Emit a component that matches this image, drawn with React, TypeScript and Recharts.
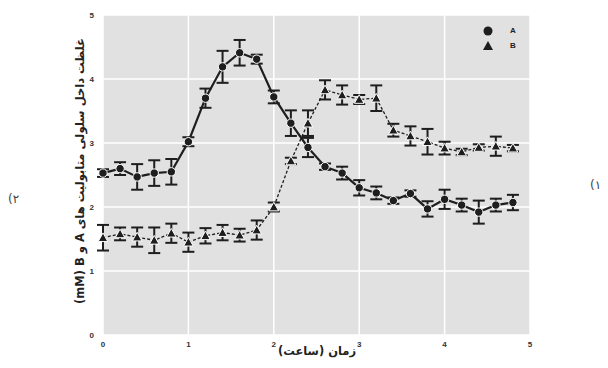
import React from 'react';
import {
  ComposedChart,
  Line,
  XAxis,
  YAxis,
  CartesianGrid,
  ErrorBar,
} from 'recharts';

// time points (hours)
const hours = [
  0, 0.2, 0.4, 0.6, 0.8, 1.0, 1.2, 1.4, 1.6, 1.8, 2.0, 2.2, 2.4,
  2.6, 2.8, 3.0, 3.2, 3.4, 3.6, 3.8, 4.0, 4.2, 4.4, 4.6, 4.8,
];

// metabolite A (mM) and its error
const metA = [
  2.53, 2.6, 2.47, 2.53, 2.55, 3.02, 3.7, 4.19, 4.41, 4.31, 3.72, 3.31, 2.93,
  2.63, 2.53, 2.3, 2.22, 2.1, 2.21, 1.97, 2.12, 2.03, 1.92, 2.03, 2.07,
];
const errA = [
  0.06, 0.1, 0.2, 0.2, 0.2, 0.07, 0.15, 0.25, 0.2, 0.07, 0.1, 0.2, 0.15,
  0.05, 0.1, 0.12, 0.1, 0.05, 0.05, 0.12, 0.15, 0.1, 0.18, 0.1, 0.12,
];

// metabolite B (mM) and its error
const metB = [
  1.52, 1.58, 1.53, 1.48, 1.59, 1.45, 1.55, 1.6, 1.56, 1.64, 2.0, 2.72, 3.31,
  3.83, 3.75, 3.68, 3.7, 3.2, 3.11, 3.02, 2.92, 2.86, 2.93, 2.95, 2.92,
];
const errB = [
  0.2, 0.1, 0.15, 0.2, 0.15, 0.15, 0.12, 0.12, 0.1, 0.15, 0.07, 0.05, 0.2,
  0.15, 0.15, 0.07, 0.2, 0.1, 0.15, 0.2, 0.1, 0.05, 0.05, 0.15, 0.05,
];

const axisTicks = [0, 1, 2, 3, 4, 5];

const xTitle = 'زمان (ساعت)';
// y title pieces, written in the order they appear (bottom to top)
const yTitleLatin = '(mM) B و A';
const yTitleWords = 'غلظت داخل سلولی متابولیت های';
const leftNote = '(۲';
const rightNote = '(۱';

const data = hours.map((h, i) => ({
  hour: h,
  a: metA[i],
  aErr: errA[i],
  b: metB[i],
  bErr: errB[i],
}));

const INK = '#1e1e1e';

const CircleDot = (props: any) => {
  const { cx, cy } = props;
  if (cx == null || cy == null) return null;
  return <circle cx={cx} cy={cy} r={4.2} fill={INK} stroke="#fff" strokeWidth={1} />;
};

const TriangleDot = (props: any) => {
  const { cx, cy } = props;
  if (cx == null || cy == null) return null;
  const s = 4.8;
  return (
    <path
      d={`M${cx},${cy - s} L${cx + s},${cy + s * 0.8} L${cx - s},${cy + s * 0.8} Z`}
      fill={INK}
      stroke="#fff"
      strokeWidth={1}
    />
  );
};

const tickStyle = { fontFamily: 'Liberation Sans', fontWeight: 700, fontSize: 8, fill: '#333' };

export default function App() {
  return (
    <div style={{ position: 'absolute', left: 0, top: 0, width: 608, height: 368, background: '#fff' }}>
      <ComposedChart
        width={608}
        height={368}
        data={data}
        margin={{ top: 15, right: 78, bottom: 13, left: 73 }}
      >
        <CartesianGrid
          fill="#e1e1e1"
          stroke="#ffffff"
          strokeWidth={1.5}
          horizontalValues={axisTicks}
          verticalValues={axisTicks}
        />
        <XAxis
          dataKey="hour"
          type="number"
          domain={[0, 5]}
          ticks={axisTicks}
          axisLine={false}
          tickLine={false}
          height={20}
          tick={tickStyle}
          tickMargin={0}
        />
        <YAxis
          type="number"
          domain={[0, 5]}
          ticks={axisTicks}
          axisLine={false}
          tickLine={false}
          width={30}
          tick={tickStyle}
          tickMargin={3}
        />
        <Line
          dataKey="b"
          stroke={INK}
          strokeWidth={1.3}
          strokeDasharray="3 2"
          dot={<TriangleDot />}
          activeDot={false}
          isAnimationActive={false}
        >
          <ErrorBar dataKey="bErr" direction="y" width={6} stroke={INK} strokeWidth={2} />
        </Line>
        <Line
          dataKey="a"
          stroke={INK}
          strokeWidth={2.2}
          dot={<CircleDot />}
          activeDot={false}
          isAnimationActive={false}
        >
          <ErrorBar dataKey="aErr" direction="y" width={6} stroke={INK} strokeWidth={2} />
        </Line>
      </ComposedChart>

      {/* legend */}
      <div
        style={{
          position: 'absolute',
          left: 481,
          top: 23,
          fontFamily: 'Liberation Sans',
          fontWeight: 700,
          fontSize: 8,
          color: '#222',
        }}
      >
        <div style={{ display: 'flex', alignItems: 'center', height: 15 }}>
          <svg width={14} height={14}>
            <circle cx={7} cy={7} r={4.5} fill={INK} />
          </svg>
          <span style={{ marginLeft: 15 }}>A</span>
        </div>
        <div style={{ display: 'flex', alignItems: 'center', height: 15 }}>
          <svg width={14} height={14}>
            <path d="M7,2 L12,11 L2,11 Z" fill={INK} />
          </svg>
          <span style={{ marginLeft: 15 }}>B</span>
        </div>
      </div>

      {/* x title */}
      <div
        style={{
          position: 'absolute',
          left: 217,
          width: 200,
          top: 344,
          textAlign: 'center',
          direction: 'rtl',
          fontFamily: 'DejaVu Sans',
          fontWeight: 700,
          fontSize: 11.5,
          color: '#222',
        }}
      >
        {xTitle}
      </div>

      {/* y title */}
      <div
        style={{
          position: 'absolute',
          left: 80 - 170,
          top: 171 - 8,
          width: 340,
          height: 16,
          lineHeight: '16px',
          textAlign: 'center',
          direction: 'ltr',
          transform: 'rotate(-90deg)',
          fontFamily: 'DejaVu Sans',
          fontWeight: 700,
          fontSize: 11.5,
          color: '#222',
          whiteSpace: 'nowrap',
        }}
      >
        {yTitleLatin} {yTitleWords}
      </div>

      <div
        style={{
          position: 'absolute',
          left: 8,
          top: 192,
          fontFamily: 'DejaVu Sans',
          fontSize: 12,
          color: '#444',
          direction: 'ltr',
        }}
      >
        {leftNote}
      </div>
      <div
        style={{
          position: 'absolute',
          left: 590,
          top: 178,
          fontFamily: 'DejaVu Sans',
          fontSize: 12,
          color: '#444',
          direction: 'ltr',
        }}
      >
        {rightNote}
      </div>
    </div>
  );
}
